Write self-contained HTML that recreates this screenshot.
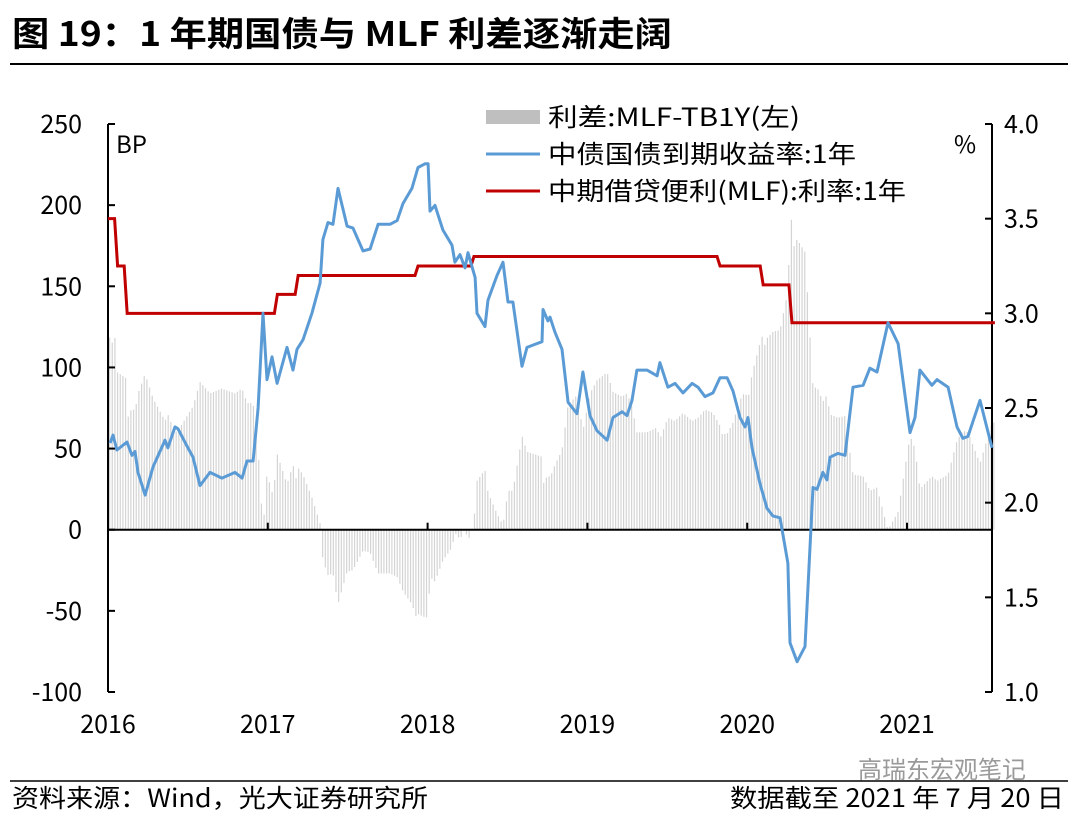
<!DOCTYPE html>
<html><head><meta charset="utf-8">
<style>
body{margin:0;background:#fff;}
svg text{font-family:"Noto Sans CJK SC","Liberation Sans",sans-serif;}
</style></head>
<body>
<svg id="c" width="1080" height="817" viewBox="0 0 1080 817" xmlns="http://www.w3.org/2000/svg">
<text x="12" y="46" font-size="34" font-weight="bold" fill="#000" textLength="660" lengthAdjust="spacingAndGlyphs">图 19：1 年期国债与 MLF 利差逐渐走阔</text>
<line x1="10" y1="64" x2="1068" y2="64" stroke="#000" stroke-width="2"/>
<g id="bars"></g>
<g id="axes"></g>
<path id="mlf" fill="none" stroke="#c00000" stroke-width="3"/>
<path id="yld" fill="none" stroke="#5b9bd5" stroke-width="3" stroke-linejoin="round"/>
<text x="116" y="153" font-size="24">BP</text>
<text x="954" y="153" font-size="24">%</text>
<g>
<rect x="486" y="110" width="54" height="14" fill="#bfbfbf"/>
<text x="548" y="126" font-size="25" textLength="252" lengthAdjust="spacingAndGlyphs">利差:MLF-TB1Y(左)</text>
<line x1="486" y1="154" x2="540" y2="154" stroke="#5b9bd5" stroke-width="3"/>
<text x="548" y="163" font-size="25" textLength="308" lengthAdjust="spacingAndGlyphs">中债国债到期收益率:1年</text>
<line x1="486" y1="191" x2="540" y2="191" stroke="#c00000" stroke-width="3"/>
<text x="548" y="200" font-size="25" textLength="358" lengthAdjust="spacingAndGlyphs">中期借贷便利(MLF):利率:1年</text>
</g>
<text x="858" y="778" font-size="24" fill="#9a9a9a">高瑞东宏观笔记</text>
<line x1="10" y1="781" x2="1068" y2="781" stroke="#000" stroke-width="1.5"/>
<text x="12" y="807" font-size="25" textLength="416" lengthAdjust="spacingAndGlyphs">资料来源：Wind，光大证券研究所</text>
<text x="730" y="807" font-size="25" textLength="334" lengthAdjust="spacingAndGlyphs">数据截至 2021 年 7 月 20 日</text>
</svg>
<script>
const yearTicks=[2016,2017,2018,2019,2020,2021];
const leftTicks=[250,200,150,100,50,0,-50,-100];
const rightTicks=[4.0,3.5,3.0,2.5,2.0,1.5,1.0];
const yieldDates=[0.013,0.031,0.056,0.119,0.150,0.169,0.188,0.232,0.282,0.357,0.375,0.419,0.438,0.494,0.532,0.576,0.638,0.713,0.795,0.839,0.870,0.908,0.939,0.970,0.995,1.026,1.058,1.120,1.158,1.183,1.220,1.276,1.327,1.345,1.377,1.408,1.439,1.496,1.533,1.596,1.640,1.690,1.765,1.809,1.846,1.902,1.940,1.984,2.003,2.015,2.046,2.096,2.153,2.171,2.203,2.234,2.253,2.297,2.309,2.359,2.378,2.434,2.472,2.503,2.534,2.591,2.622,2.653,2.716,2.722,2.753,2.766,2.797,2.841,2.879,2.935,2.972,3.016,3.060,3.123,3.160,3.217,3.248,3.279,3.310,3.373,3.436,3.454,3.504,3.548,3.598,3.655,3.692,3.736,3.786,3.830,3.874,3.911,3.955,3.986,4.005,4.030,4.080,4.124,4.161,4.205,4.255,4.268,4.312,4.362,4.412,4.437,4.474,4.499,4.518,4.568,4.612,4.662,4.725,4.768,4.812,4.881,4.944,5.019,5.050,5.081,5.156,5.188,5.257,5.313,5.350,5.382,5.413,5.457,5.532];
const yieldVals=[2.315,2.357,2.278,2.32,2.25,2.27,2.16,2.04,2.19,2.33,2.29,2.40,2.39,2.30,2.24,2.09,2.16,2.13,2.16,2.13,2.22,2.22,2.50,3.00,2.65,2.77,2.63,2.82,2.70,2.81,2.86,3.00,3.16,3.39,3.48,3.47,3.66,3.46,3.45,3.33,3.34,3.47,3.47,3.49,3.58,3.66,3.77,3.79,3.79,3.54,3.57,3.44,3.36,3.27,3.31,3.24,3.32,3.19,3.00,2.93,3.07,3.20,3.27,3.06,3.06,2.72,2.82,2.83,2.85,3.02,2.96,2.98,2.90,2.81,2.53,2.47,2.69,2.46,2.38,2.33,2.45,2.48,2.46,2.54,2.70,2.70,2.67,2.74,2.61,2.63,2.58,2.63,2.61,2.56,2.58,2.66,2.66,2.59,2.45,2.40,2.45,2.29,2.10,1.97,1.93,1.92,1.68,1.26,1.16,1.24,2.08,2.07,2.16,2.12,2.24,2.26,2.25,2.61,2.62,2.71,2.69,2.95,2.84,2.37,2.45,2.70,2.62,2.65,2.61,2.40,2.34,2.35,2.43,2.54,2.29];
const mlfDates=[0,0.06,0.12,1.06,1.19,1.94,2.29,3.83,4.10,4.28];
const mlfVals=[3.5,3.25,3.0,3.1,3.2,3.25,3.3,3.25,3.15,2.95];
const endDate=5.55;

const NS="http://www.w3.org/2000/svg";
const X0=108,X1=992,YT=124,YB=692;
const xs=t=>X0+t*159.8;
const yL=v=>YT+(250-v)*(YB-YT)/350;
const yR=v=>YT+(4-v)*(YB-YT)/3;
function mk(tag,attrs,parent){const e=document.createElementNS(NS,tag);for(const k in attrs)e.setAttribute(k,attrs[k]);parent.appendChild(e);return e;}
function mlfAt(t){let v=mlfVals[0];for(let i=0;i<mlfDates.length;i++)if(t>=mlfDates[i])v=mlfVals[i];return v;}
function yieldAt(t){if(t<=yieldDates[0])return yieldVals[0];for(let i=1;i<yieldDates.length;i++){if(t<=yieldDates[i]){const f=(t-yieldDates[i-1])/(yieldDates[i]-yieldDates[i-1]);return yieldVals[i-1]+f*(yieldVals[i]-yieldVals[i-1]);}}return yieldVals[yieldVals.length-1];}
const bg=document.getElementById('bars');
for(let t=0.01;t<=endDate;t+=1/60){
  const s=(mlfAt(t)-yieldAt(t))*100;
  const b=mk('line',{x1:xs(t),x2:xs(t),y1:yL(0),y2:yL(s),stroke:'#d4d4d4','stroke-width':1.2},bg);
  
  
}
const ax=document.getElementById('axes');
mk('line',{x1:X0,y1:YT,x2:X0,y2:YB,stroke:'#000','stroke-width':2},ax);
mk('line',{x1:X1,y1:YT,x2:X1,y2:YB,stroke:'#000','stroke-width':2},ax);
mk('line',{x1:X0,y1:yL(0),x2:X1,y2:yL(0),stroke:'#000','stroke-width':2},ax);
leftTicks.forEach(v=>{mk('line',{x1:X0,x2:X0+7,y1:yL(v),y2:yL(v),stroke:'#000','stroke-width':2},ax);
  const t=mk('text',{x:X0-26,y:yL(v)+9,'font-size':25,'text-anchor':'end'},ax);t.textContent=v;
  });
rightTicks.forEach(v=>{mk('line',{x1:X1-7,x2:X1,y1:yR(v),y2:yR(v),stroke:'#000','stroke-width':2},ax);
  const t=mk('text',{x:X1+12,y:yR(v)+9,'font-size':25},ax);t.textContent=v.toFixed(1);
  });
yearTicks.forEach(y=>{const x=xs(y-2016);mk('line',{x1:x,x2:x,y1:yL(0)-7,y2:yL(0),stroke:'#000','stroke-width':2},ax);
  const t=mk('text',{x:x,y:733,'font-size':25,'text-anchor':'middle'},ax);t.textContent=y;
  });
let d='';
mlfDates.forEach((t,i)=>{const x=xs(t),y=yR(mlfVals[i]);d+=(i==0?'M':'L')+x+','+y;const nx=i<mlfDates.length-1?xs(mlfDates[i+1])-3:xs(endDate);d+='L'+nx+','+y;});
document.getElementById('mlf').setAttribute('d',d);
document.getElementById('yld').setAttribute('d',yieldDates.map((t,i)=>(i?'L':'M')+xs(t).toFixed(1)+','+yR(yieldVals[i]).toFixed(1)).join(''));
</script>
</body></html>
